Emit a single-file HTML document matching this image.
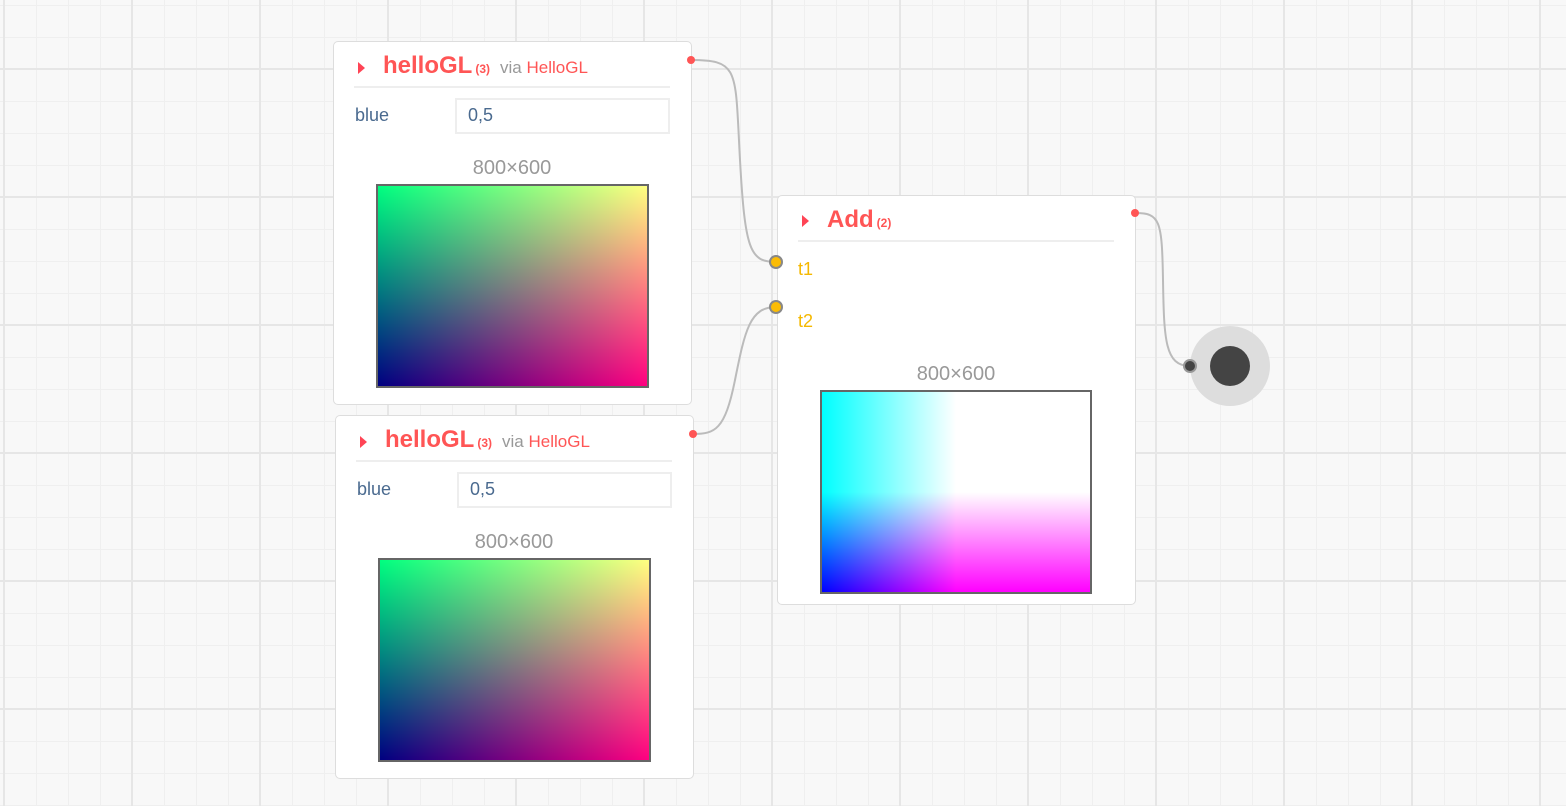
<!DOCTYPE html>
<html><head><meta charset="utf-8"><style>
html,body{margin:0;padding:0}
body{width:1566px;height:806px;overflow:hidden;position:relative;font-family:"Liberation Sans","DejaVu Sans",sans-serif;
background-color:#f8f8f8;
background-image:
linear-gradient(to right,#e6e6e6 0 2px,transparent 2px),
linear-gradient(to bottom,#e6e6e6 0 2px,transparent 2px),
linear-gradient(to right,#efefef 0 1px,transparent 1px),
linear-gradient(to bottom,#efefef 0 1px,transparent 1px);
background-size:128px 128px,128px 128px,32px 32px,32px 32px;
background-position:3px 0,0 68px,4px 0,0 5px;}
.node{position:absolute;background:#fff;border:1.5px solid #ddd;border-radius:5px;box-sizing:border-box}
.tri{position:absolute;width:0;height:0;border-top:6px solid transparent;border-bottom:6px solid transparent;border-left:7px solid #f45}
.title{position:absolute;color:#f55;font-weight:bold;font-size:24px;white-space:nowrap}
.title small{font-size:12px;font-weight:bold;margin-left:3px}
.title .via{font-weight:normal;font-size:17px;color:#999;margin-left:10px}
.title .via b{font-weight:normal;color:#f55}
.sep{position:absolute;height:2px;background:#eee}
.lbl{position:absolute;font-size:18px;color:#4a6a8f}
.inp{position:absolute;border:2px solid #eee;box-sizing:border-box;font-size:18px;color:#4a6a8f;padding:5px 0 0 11px}
.dim{position:absolute;font-size:20px;color:#999;text-align:center}
.img{position:absolute;border:2px solid #666;box-sizing:border-box}
.hg{background-color:#000;background-image:linear-gradient(to bottom,#00ff00,#000000),linear-gradient(to right,#000080,#ff0080);background-blend-mode:screen}
.port{position:absolute;border-radius:50%}
</style></head><body>
<svg width="1566" height="806" style="position:absolute;left:0;top:0">
<path d="M691 60 C 740 60, 735 70, 740 160 S 750 262, 776 262" fill="none" stroke="#bbb" stroke-width="2"/>
<path d="M693 434 C 715 434, 725 430, 735 380 S 750 307, 776 307" fill="none" stroke="#bbb" stroke-width="2"/>
<path d="M1135 213 C 1160 213, 1162 220, 1163 280 S 1165 366, 1190 366" fill="none" stroke="#bbb" stroke-width="2"/>
</svg>

<div class="node" style="left:333px;top:41px;width:359px;height:364px"></div>
<div class="tri" style="left:358px;top:62px"></div>
<div class="title" style="left:383px;top:52px">helloGL<small>(3)</small><span class="via">via <b>HelloGL</b></span></div>
<div class="sep" style="left:354px;top:86px;width:316px"></div>
<div class="lbl" style="left:355px;top:105px">blue</div>
<div class="inp" style="left:455px;top:98px;width:215px;height:36px">0,5</div>
<div class="dim" style="left:412px;top:157px;width:200px">800×600</div>
<div class="img hg" style="left:376px;top:184px;width:273px;height:204px"></div>

<div class="node" style="left:335px;top:415px;width:359px;height:364px"></div>
<div class="tri" style="left:360px;top:436px"></div>
<div class="title" style="left:385px;top:426px">helloGL<small>(3)</small><span class="via">via <b>HelloGL</b></span></div>
<div class="sep" style="left:356px;top:460px;width:316px"></div>
<div class="lbl" style="left:357px;top:479px">blue</div>
<div class="inp" style="left:457px;top:472px;width:215px;height:36px">0,5</div>
<div class="dim" style="left:414px;top:531px;width:200px">800×600</div>
<div class="img hg" style="left:378px;top:558px;width:273px;height:204px"></div>

<div class="node" style="left:777px;top:195px;width:359px;height:410px"></div>
<div class="tri" style="left:802px;top:215px"></div>
<div class="title" style="left:827px;top:206px">Add<small>(2)</small></div>
<div class="sep" style="left:798px;top:240px;width:316px"></div>
<div class="lbl" style="left:798px;top:259px;color:#f5b800">t1</div>
<div class="lbl" style="left:798px;top:311px;color:#f5b800">t2</div>
<div class="dim" style="left:856px;top:363px;width:200px">800×600</div>
<div class="img" style="left:820px;top:390px;width:272px;height:204px;background:#fff;overflow:hidden">
 <div style="position:absolute;left:0;top:0;right:0;bottom:0;background-color:#00f;background-image:linear-gradient(to bottom,#0f0 0%,#0f0 50%,#000 100%),linear-gradient(to right,#000 0%,#f00 50%,#f00 100%);background-blend-mode:screen"></div>
</div>

<div class="port" style="left:687px;top:56px;width:8px;height:8px;background:#f55"></div>
<div class="port" style="left:689px;top:430px;width:8px;height:8px;background:#f55"></div>
<div class="port" style="left:1131px;top:209px;width:8px;height:8px;background:#f55"></div>
<div class="port" style="left:769px;top:255px;width:10px;height:10px;background:#fbbc05;border:2px solid #888"></div>
<div class="port" style="left:769px;top:300px;width:10px;height:10px;background:#fbbc05;border:2px solid #888"></div>

<div class="port" style="left:1190px;top:326px;width:80px;height:80px;background:#ddd"></div>
<div class="port" style="left:1210px;top:346px;width:40px;height:40px;background:#444"></div>
<div class="port" style="left:1183px;top:359px;width:10px;height:10px;background:#444;border:2px solid #999"></div>
</body></html>
